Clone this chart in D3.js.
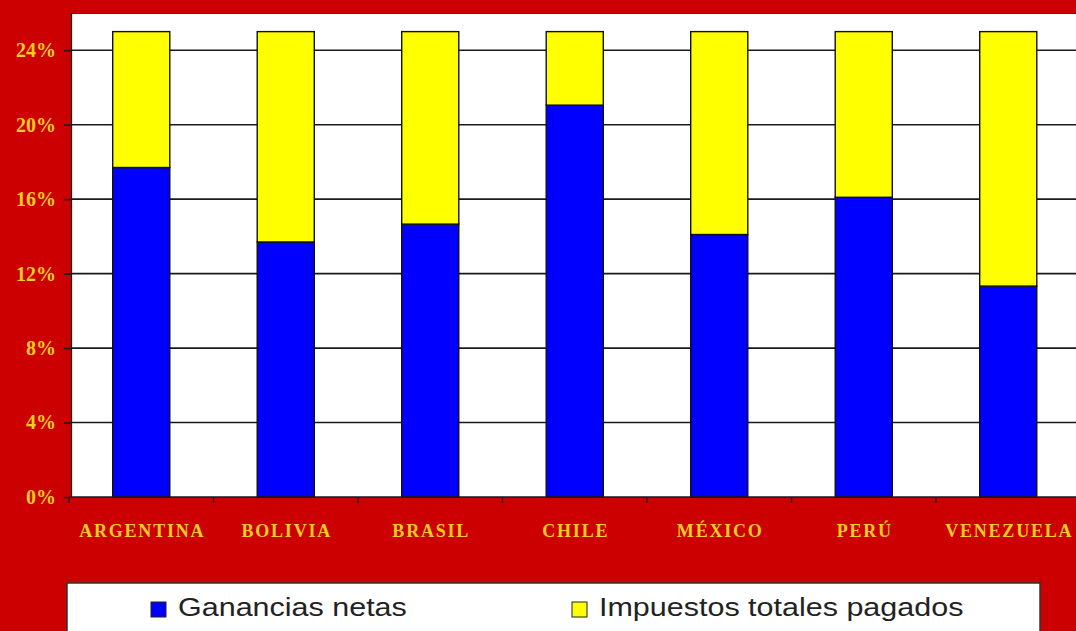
<!DOCTYPE html>
<html>
<head>
<meta charset="utf-8">
<script src="https://cdn.jsdelivr.net/npm/d3@7"></script>
<style>
  html, body { margin: 0; padding: 0; background: #CC0000; }
  svg { display: block; }
</style>
</head>
<body>
<svg id="chart" width="1076" height="631"></svg>
<script>
const categories = ["ARGENTINA", "BOLIVIA", "BRASIL", "CHILE", "MÉXICO", "PERÚ", "VENEZUELA"];
const ganancias = [17.7, 13.7, 14.66, 21.05, 14.1, 16.1, 11.33];
const impuestos = [7.3, 11.3, 10.34, 3.95, 10.9, 8.9, 13.67];
const yTicks = [0, 4, 8, 12, 16, 20, 24];
const seriesNames = ["Ganancias netas", "Impuestos totales pagados"];
const seriesColors = ["#0000FF", "#FFFF00"];

const W = 1076, H = 631;
const svg = d3.select("#chart");
svg.append("rect").attr("width", W).attr("height", H).attr("fill", "#CC0000");

const plotLeft = 71, plotTop = 13, plotBottom = 497;
const step = 144.5;
const x = d3.scaleBand().domain(categories)
  .range([69, 69 + categories.length * step])
  .paddingInner(0.605).paddingOuter(0.3025);
const y = d3.scaleLinear().domain([0, 26]).range([plotBottom, plotTop]);

// plot area
svg.append("rect").attr("x", plotLeft).attr("y", plotTop)
  .attr("width", W - plotLeft + 10).attr("height", plotBottom - plotTop)
  .attr("fill", "#FFFFFF");
svg.append("line").attr("x1", plotLeft).attr("x2", W).attr("y1", plotTop + 0.5).attr("y2", plotTop + 0.5)
  .attr("stroke", "#8a1010").attr("stroke-width", 1);

// gridlines
svg.append("g").selectAll("line").data(yTicks.filter(d => d > 0)).join("line")
  .attr("x1", plotLeft).attr("x2", W)
  .attr("y1", d => y(d)).attr("y2", d => y(d))
  .attr("stroke", "#1a1a1a").attr("stroke-width", 1.6);

// stacked bars
const data = categories.map((c, i) => ({ c, g: ganancias[i], t: impuestos[i] }));
const stack = d3.stack().keys(["g", "t"])(data);
svg.append("g").selectAll("g").data(stack).join("g")
  .attr("fill", (d, i) => seriesColors[i])
  .selectAll("rect").data(d => d).join("rect")
  .attr("x", d => x(d.data.c))
  .attr("width", x.bandwidth())
  .attr("y", d => y(d[1]))
  .attr("height", d => y(d[0]) - y(d[1]))
  .attr("stroke", "#111").attr("stroke-width", 1.4);

// y axis
const yAxis = svg.append("g").attr("transform", `translate(${plotLeft},0)`)
  .call(d3.axisLeft(y).tickValues(yTicks).tickFormat(d => d + "%")
    .tickSize(7).tickSizeOuter(0).tickPadding(8));
yAxis.select(".domain").attr("stroke", "#1a1a1a").attr("stroke-width", 1.2);
yAxis.selectAll(".tick line").attr("stroke", "#1a1a1a").attr("stroke-width", 1.6);
yAxis.selectAll(".tick text")
  .attr("fill", "#FFCC22")
  .style("font-family", "'Liberation Serif', 'Times New Roman', serif")
  .style("font-weight", "bold")
  .style("font-size", "20px");

// x axis line + ticks at category boundaries
const xg = svg.append("g");
xg.append("line").attr("x1", plotLeft).attr("x2", W).attr("y1", plotBottom).attr("y2", plotBottom)
  .attr("stroke", "#1a1a1a").attr("stroke-width", 1.6);
const boundaries = categories.map(c => x(c) - (x.step() - x.bandwidth()) / 2);
xg.selectAll("line.t").data(boundaries).join("line").attr("class", "t")
  .attr("x1", d => d).attr("x2", d => d).attr("y1", plotBottom).attr("y2", plotBottom + 6)
  .attr("stroke", "#1a1a1a").attr("stroke-width", 1.4);
xg.selectAll("text").data(categories).join("text")
  .attr("x", d => x(d) + x.bandwidth() / 2 + 1)
  .attr("y", 537)
  .attr("text-anchor", "middle")
  .attr("fill", "#FFCC22")
  .style("font-family", "'Liberation Serif', 'Times New Roman', serif")
  .style("font-weight", "bold")
  .style("font-size", "18px")
  .style("letter-spacing", "1.8px")
  .text(d => d);

// legend
const lg = svg.append("g");
lg.append("rect").attr("x", 67).attr("y", 583).attr("width", 973).attr("height", 60)
  .attr("fill", "#FFFFFF").attr("stroke", "#333").attr("stroke-width", 1.5);
const legendX = [151, 572];
seriesNames.forEach((name, i) => {
  lg.append("rect").attr("x", legendX[i]).attr("y", 602).attr("width", 15).attr("height", 15)
    .attr("fill", seriesColors[i]).attr("stroke", "#222").attr("stroke-width", 1);
  lg.append("text")
    .attr("transform", `translate(${legendX[i] + 27},616) scale(1.22,1)`)
    .attr("fill", "#222")
    .style("font-family", "'Liberation Sans', Arial, sans-serif")
    .style("font-size", "25px")
    .text(name);
});
</script>
</body>
</html>
